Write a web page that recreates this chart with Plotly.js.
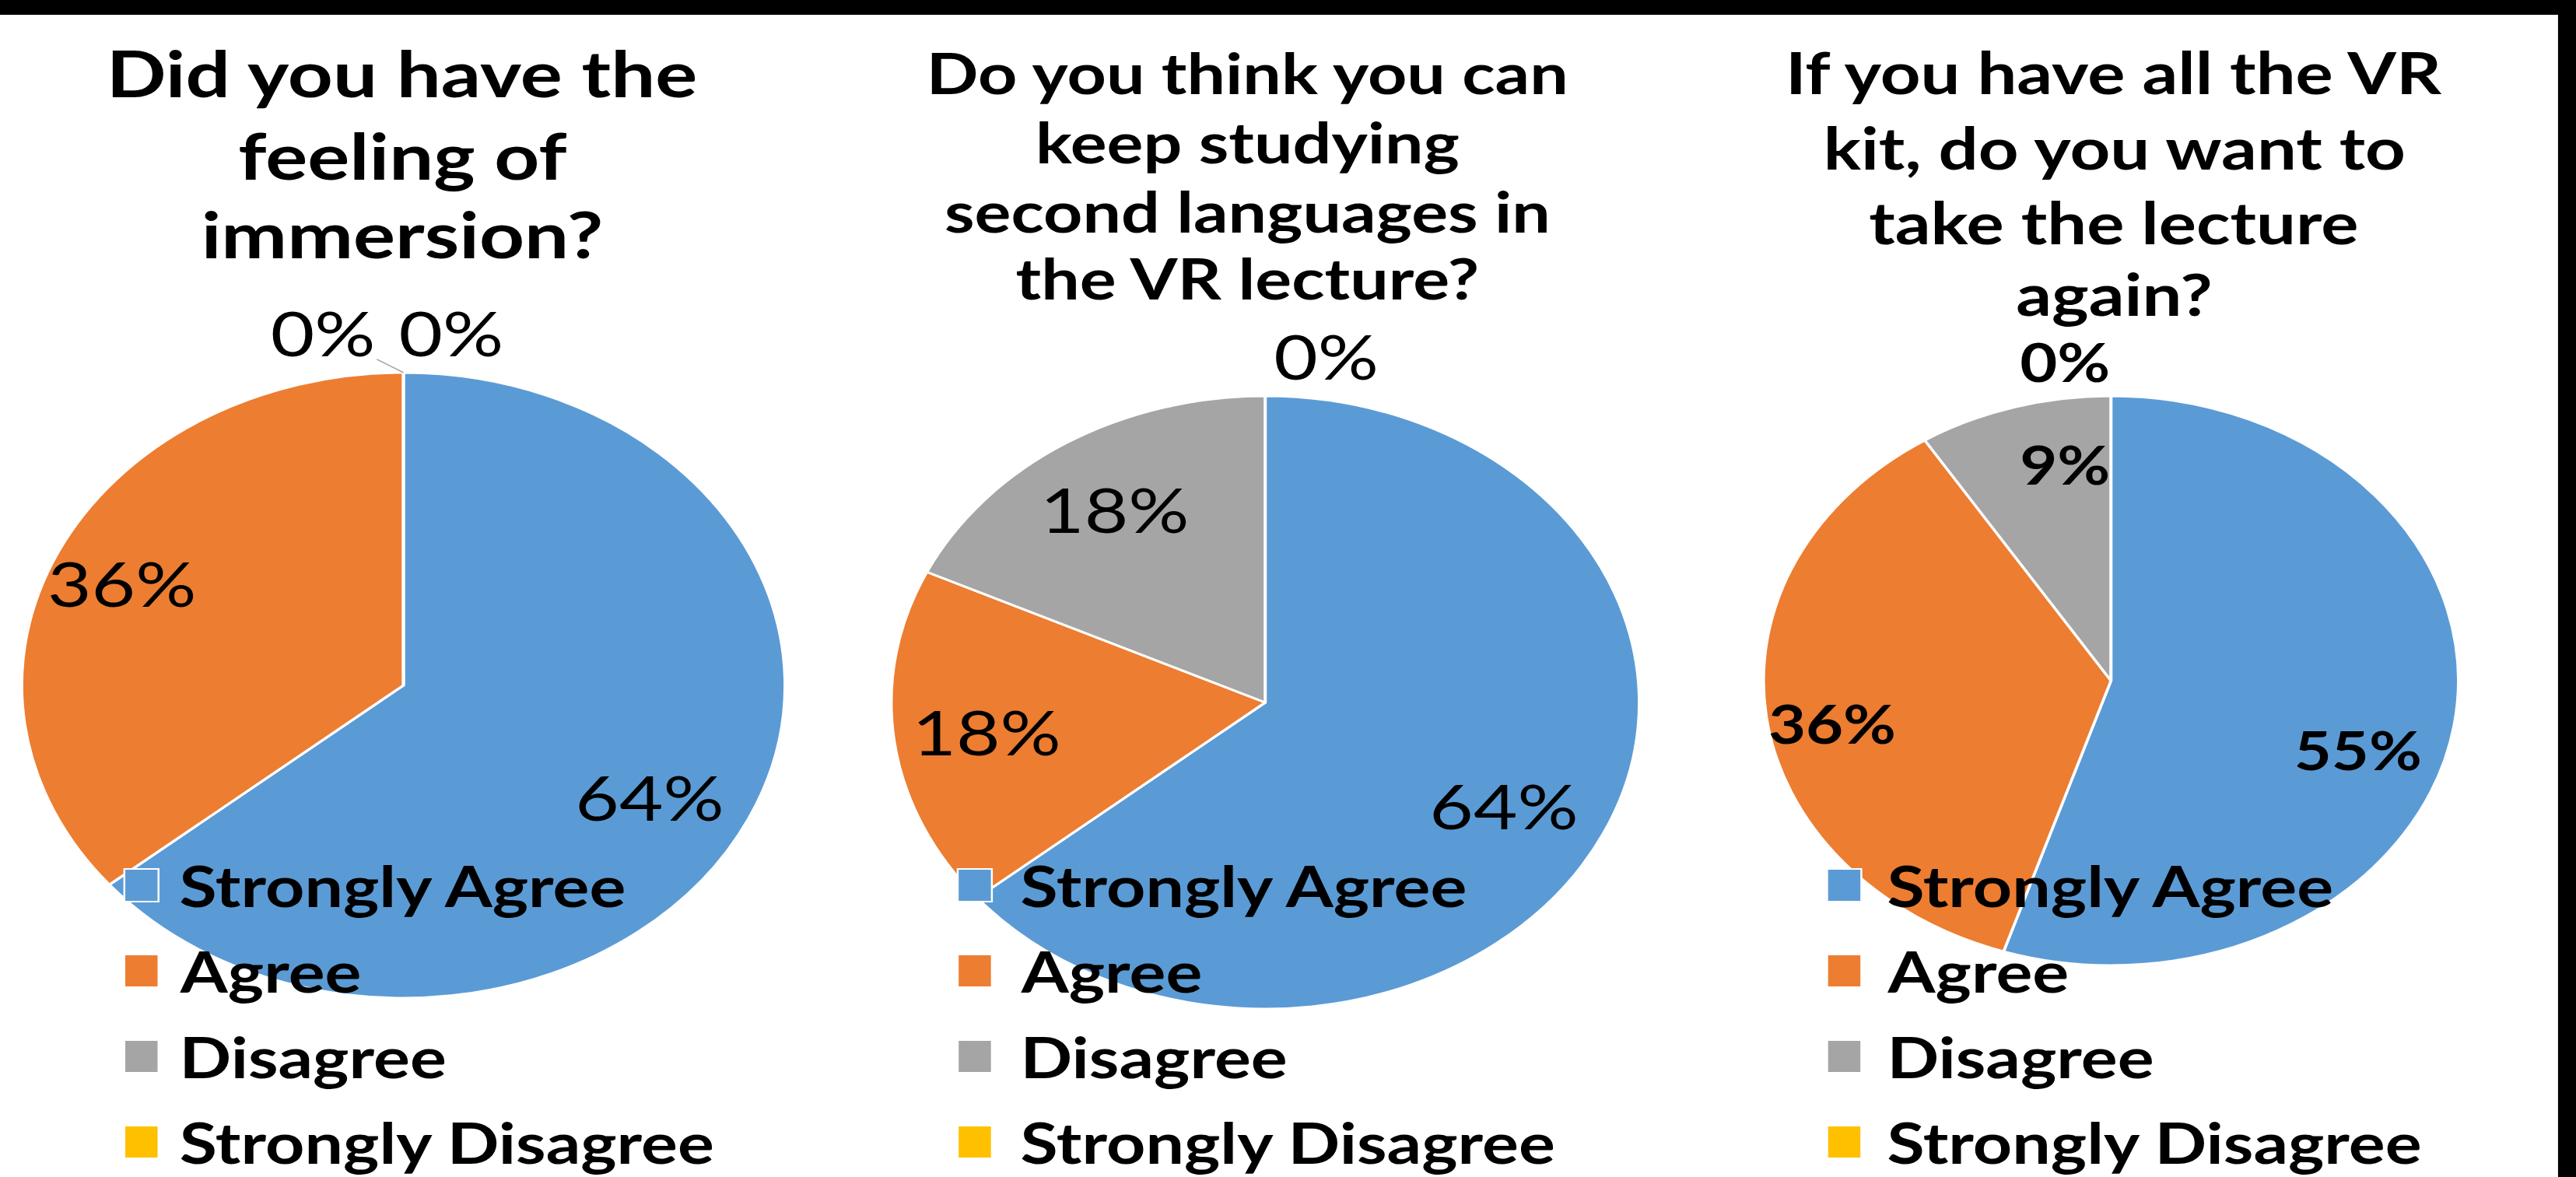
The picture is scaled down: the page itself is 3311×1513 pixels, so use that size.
<!DOCTYPE html>
<html><head><meta charset="utf-8">
<script src="https://cdn.plot.ly/plotly-3.0.1.min.js"></script>
<style>
html,body{margin:0;padding:0;background:#000;overflow:hidden;width:3311px;height:1513px;}
#chart{position:absolute;left:0;top:19px;width:2695px;height:1494px;transform:scaleX(1.22);transform-origin:0 0;}
</style></head><body><div id="chart"></div>
<script>
// ---- data ----
const categories = ['Strongly Agree', 'Agree', 'Disagree', 'Strongly Disagree'];
const questions = [
  'Did you have the<br>feeling of<br>immersion?',
  'Do you think you can<br>keep studying<br>second languages in<br>the VR lecture?',
  'If you have all the VR<br>kit, do you want to<br>take the lecture<br>again?'
];
const immersion = [64, 36, 0, 0];
const keepStudying = [64, 18, 18, 0];
const takeAgain = [55, 36, 9, 0];
const colors = ['#5B9BD5', '#ED7D31', '#A5A5A5', '#FFC000'];

// ---- layout config (pixels in the unstretched canvas) ----
const W = 2695, H = 1494;
const FONT = 'Lato, "Open Sans", sans-serif';
const panels = [
  {values: immersion, cx: 425, cy: 862, r: 402, titleX: 424, titleLines: [74, 180, 281], titleSize: 83,
   labelSize: 80, labelBold: false, labelFrac: 0.77, nudge: [[-21, 11], [-16, 0]],
   zeroDx: [-85, 50], zeroDy: [-52, -52], leader: [true, false], squareX: 131, textX: 187},
  {values: keepStudying, cx: 1333, cy: 884, r: 394, titleX: 1314, titleLines: [74, 163, 252, 338], titleSize: 72,
   labelSize: 80, labelBold: false, labelFrac: 0.75, nudge: [[-16, 6], [0, 0], [0, 0]],
   zeroDx: [64], zeroDy: [-52], leader: [false], squareX: 1009, textX: 1073},
  {values: takeAgain, cx: 2224, cy: 856, r: 366, titleX: 2227, titleLines: [74, 171, 266, 358], titleSize: 74,
   labelSize: 68, labelBold: true, labelFrac: 0.78, nudge: [[-21, 44], [-10, 19], [31, -4]],
   zeroDx: [-49], zeroDy: [-44], leader: [false], squareX: 1925, textX: 1986}
];
const legendTop = 1119, legendStep = 110, legendSize = 72, squareW = 36, squareH = 42;

const px = x => x / W;
const py = y => 1 - y / H;

const traces = [];
const annotations = [];
const shapes = [];

panels.forEach((p, k) => {
  traces.push({
    type: 'pie', values: p.values, labels: categories, sort: false,
    direction: 'clockwise', rotation: 0,
    marker: {colors: colors, line: {color: '#ffffff', width: 3}},
    textinfo: 'none', hoverinfo: 'none', showlegend: false,
    domain: {x: [px(p.cx - p.r), px(p.cx + p.r)], y: [py(p.cy + p.r), py(p.cy - p.r)]}
  });

  // title, one annotation per line
  questions[k].split('<br>').forEach((line, j) => {
    annotations.push({
      xref: 'paper', yref: 'paper', x: px(p.titleX), y: py(p.titleLines[j]),
      xanchor: 'center', yanchor: 'middle', align: 'center', showarrow: false,
      text: line, font: {family: FONT, size: p.titleSize, color: '#000', weight: 700}
    });
  });

  // slice labels
  const total = p.values.reduce((a, b) => a + b, 0);
  let cum = 0, zi = 0;
  p.values.forEach((v, i) => {
    const txt = Math.round(v / total * 100) + '%';
    const lf = {family: FONT, size: p.labelSize, color: '#000', weight: p.labelBold ? 700 : 400};
    if (v > 0) {
      const mid = (cum + v / 2) / total * 2 * Math.PI;
      const n = p.nudge[i] || [0, 0];
      const x = p.cx + p.labelFrac * p.r * Math.sin(mid) + n[0];
      const y = p.cy - p.labelFrac * p.r * Math.cos(mid) + n[1];
      annotations.push({xref: 'paper', yref: 'paper', x: px(x), y: py(y), xanchor: 'center', yanchor: 'middle',
        showarrow: false, text: txt, font: lf});
    } else {
      const dx = p.zeroDx[zi] || 0, dy = p.zeroDy[zi] || -52;
      if (p.leader[zi]) {
        annotations.push({xref: 'paper', yref: 'paper', x: px(p.cx), y: py(p.cy - p.r),
          ax: dx, ay: dy, showarrow: true, arrowhead: 0, arrowwidth: 1.5, arrowcolor: '#A6A6A6',
          standoff: 0, text: txt, font: lf});
      } else {
        annotations.push({xref: 'paper', yref: 'paper', x: px(p.cx + dx), y: py(p.cy - p.r + dy),
          xanchor: 'center', yanchor: 'middle', showarrow: false, text: txt, font: lf});
      }
      zi++;
    }
    cum += v;
  });

  // legend
  categories.forEach((c, i) => {
    const ry = legendTop + i * legendStep;
    shapes.push({type: 'rect', xref: 'paper', yref: 'paper', layer: 'above',
      x0: px(p.squareX), x1: px(p.squareX + squareW), y0: py(ry + squareH / 2), y1: py(ry - squareH / 2),
      fillcolor: colors[i], line: {color: '#ffffff', width: 2}});
    annotations.push({xref: 'paper', yref: 'paper', x: px(p.textX), y: py(ry), xanchor: 'left', yanchor: 'middle',
      showarrow: false, text: c, font: {family: FONT, size: legendSize, color: '#000', weight: 700}});
  });
});

Plotly.newPlot('chart', traces, {
  width: W, height: H, margin: {l: 0, r: 0, t: 0, b: 0},
  paper_bgcolor: '#ffffff', plot_bgcolor: '#ffffff', showlegend: false,
  annotations: annotations, shapes: shapes
}, {displayModeBar: false, staticPlot: true});
</script></body></html>
